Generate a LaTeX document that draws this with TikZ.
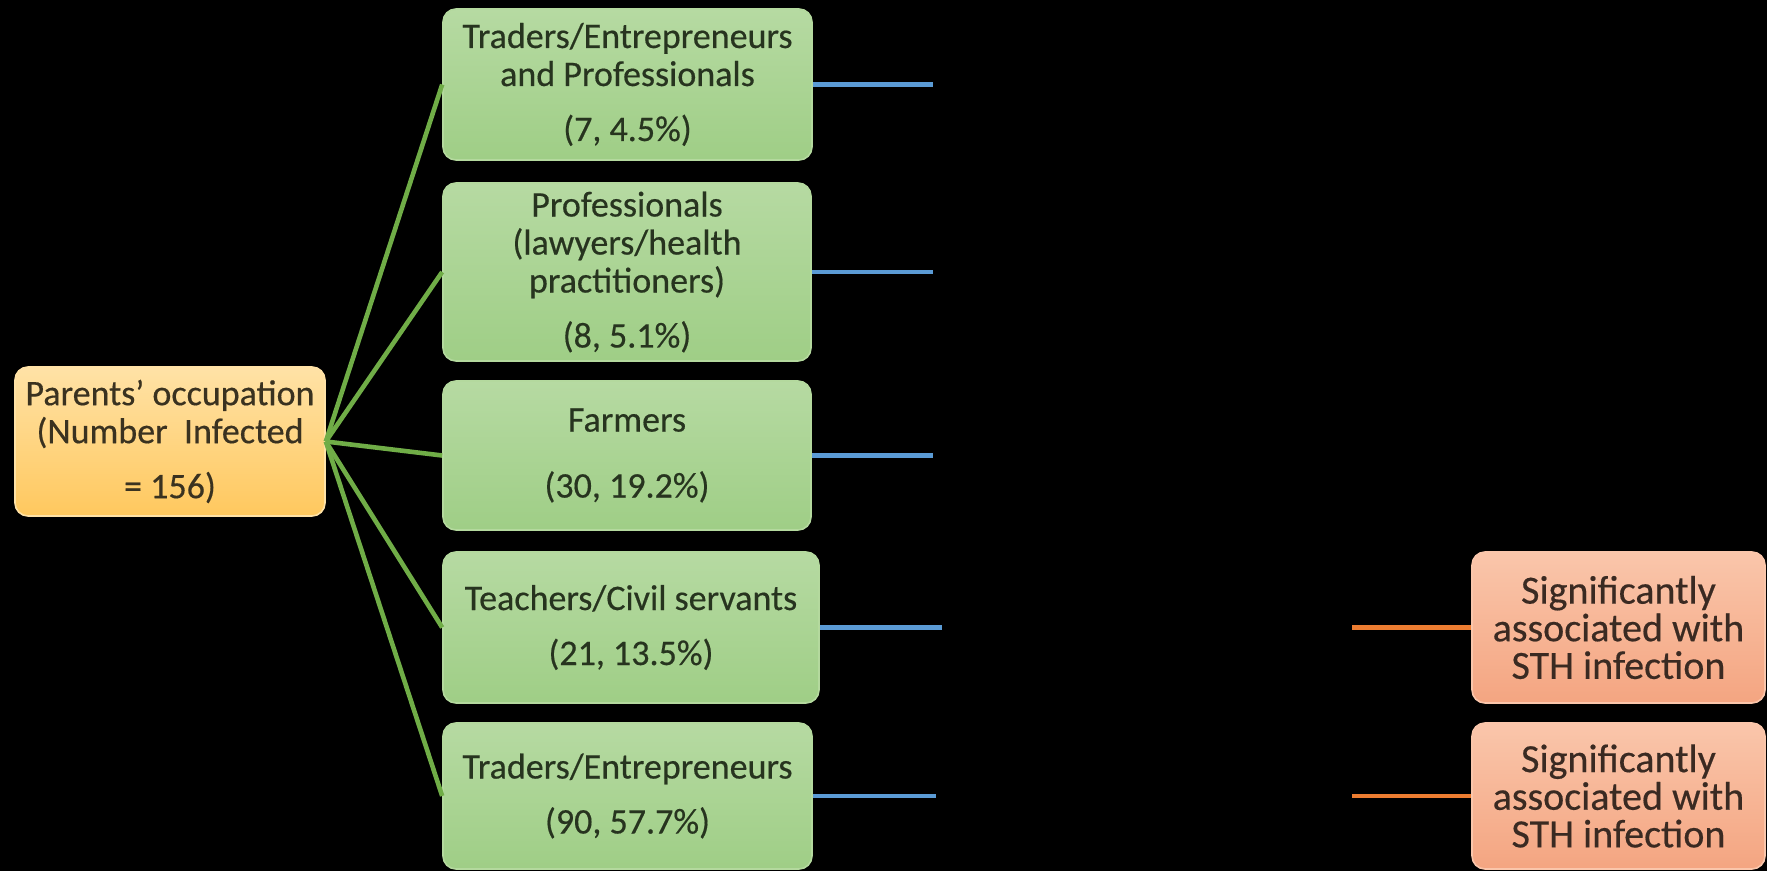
\documentclass[tikz,border=0pt]{standalone}
\usepackage{fontspec}
\setmainfont{Carlito}[FakeBold=0.4]
\definecolor{gtop}{HTML}{B6DAA2}
\definecolor{gbot}{HTML}{9FCE86}
\definecolor{gline}{HTML}{B4D99E}
\definecolor{gtext}{HTML}{27341F}
\definecolor{rtop}{HTML}{FFE2A6}
\definecolor{rbot}{HTML}{FFC85E}
\definecolor{rtext}{HTML}{3A3220}
\definecolor{otop}{HTML}{FAC6AB}
\definecolor{obot}{HTML}{F4A581}
\definecolor{otext}{HTML}{3A2A22}
\definecolor{lgreen}{HTML}{70AD47}
\definecolor{lblue}{HTML}{5B9BD5}
\definecolor{lorange}{HTML}{ED7D31}
\begin{document}
\begin{tikzpicture}[x=0.5pt,y=-0.5pt,
  box/.style={rounded corners=6.5pt, align=center, inner sep=0pt, font=\fontsize{18}{19}\selectfont},
  gbox/.style={box, top color=gtop, bottom color=gbot, draw=gline, line width=0.8pt, text=gtext},
  rbox/.style={box, top color=rtop, bottom color=rbot, draw=rtop, line width=0.8pt, text=rtext},
  obox/.style={box, top color=otop, bottom color=obot, draw=otop, line width=0.8pt, text=otext, font=\fontsize{20}{18.8}\selectfont},
  gconn/.style={draw=lgreen, line width=2.3pt},
  bconn/.style={draw=lblue, line width=2.3pt},
  oconn/.style={draw=lorange, line width=2.3pt}]
\fill[black] (0,0) rectangle (1767,871);
\useasboundingbox (0,0) rectangle (1767,871);

\node[rbox, minimum width=155pt, minimum height=74.5pt] (root) at (170,441.5)
  {Parents’ occupation\\(Number\ \ Infected\\[8.5pt]= 156)};

\node[gbox, minimum width=184.5pt, minimum height=75.5pt] (b1) at (627.5,84.5)
  {Traders/Entrepreneurs\\and Professionals\\[8.5pt](7, 4.5\%)};
\node[gbox, minimum width=184pt, minimum height=89pt] (b2) at (627,272)
  {Professionals\\(lawyers/health\\practitioners)\\[8.5pt](8, 5.1\%)};
\node[gbox, minimum width=184pt, minimum height=74.5pt] (b3) at (627,455.5)
  {Farmers\\[14pt](30, 19.2\%)};
\node[gbox, minimum width=188pt, minimum height=75.5pt] (b4) at (631,627.5)
  {Teachers/Civil servants\\[8.5pt](21, 13.5\%)};
\node[gbox, minimum width=184.5pt, minimum height=73pt] (b5) at (627.5,796)
  {Traders/Entrepreneurs\\[8.5pt](90, 57.7\%)};

\node[obox, minimum width=146.5pt, minimum height=75.5pt] (o1) at (1618.5,627.5)
  {Significantly\\associated with\\STH infection};
\node[obox, minimum width=146.5pt, minimum height=73pt] (o2) at (1618.5,796)
  {Significantly\\associated with\\STH infection};

\foreach \b in {b1,b2,b3,b4,b5} \draw[gconn] (root.east) -- (\b.west);

\coordinate (e1) at (933,84.5);
\coordinate (e2) at (933,272);
\coordinate (e3) at (933,455.5);
\coordinate (e4) at (942,627.5);
\coordinate (e5) at (936,796);
\draw[bconn] (b1.east) -- (e1);
\draw[bconn] (b2.east) -- (e2);
\draw[bconn] (b3.east) -- (e3);
\draw[bconn] (b4.east) -- (e4);
\draw[bconn] (b5.east) -- (e5);

\coordinate (s1) at (1352,627.5);
\coordinate (s2) at (1352,796);
\draw[oconn] (s1) -- (o1.west);
\draw[oconn] (s2) -- (o2.west);
\end{tikzpicture}
\end{document}
